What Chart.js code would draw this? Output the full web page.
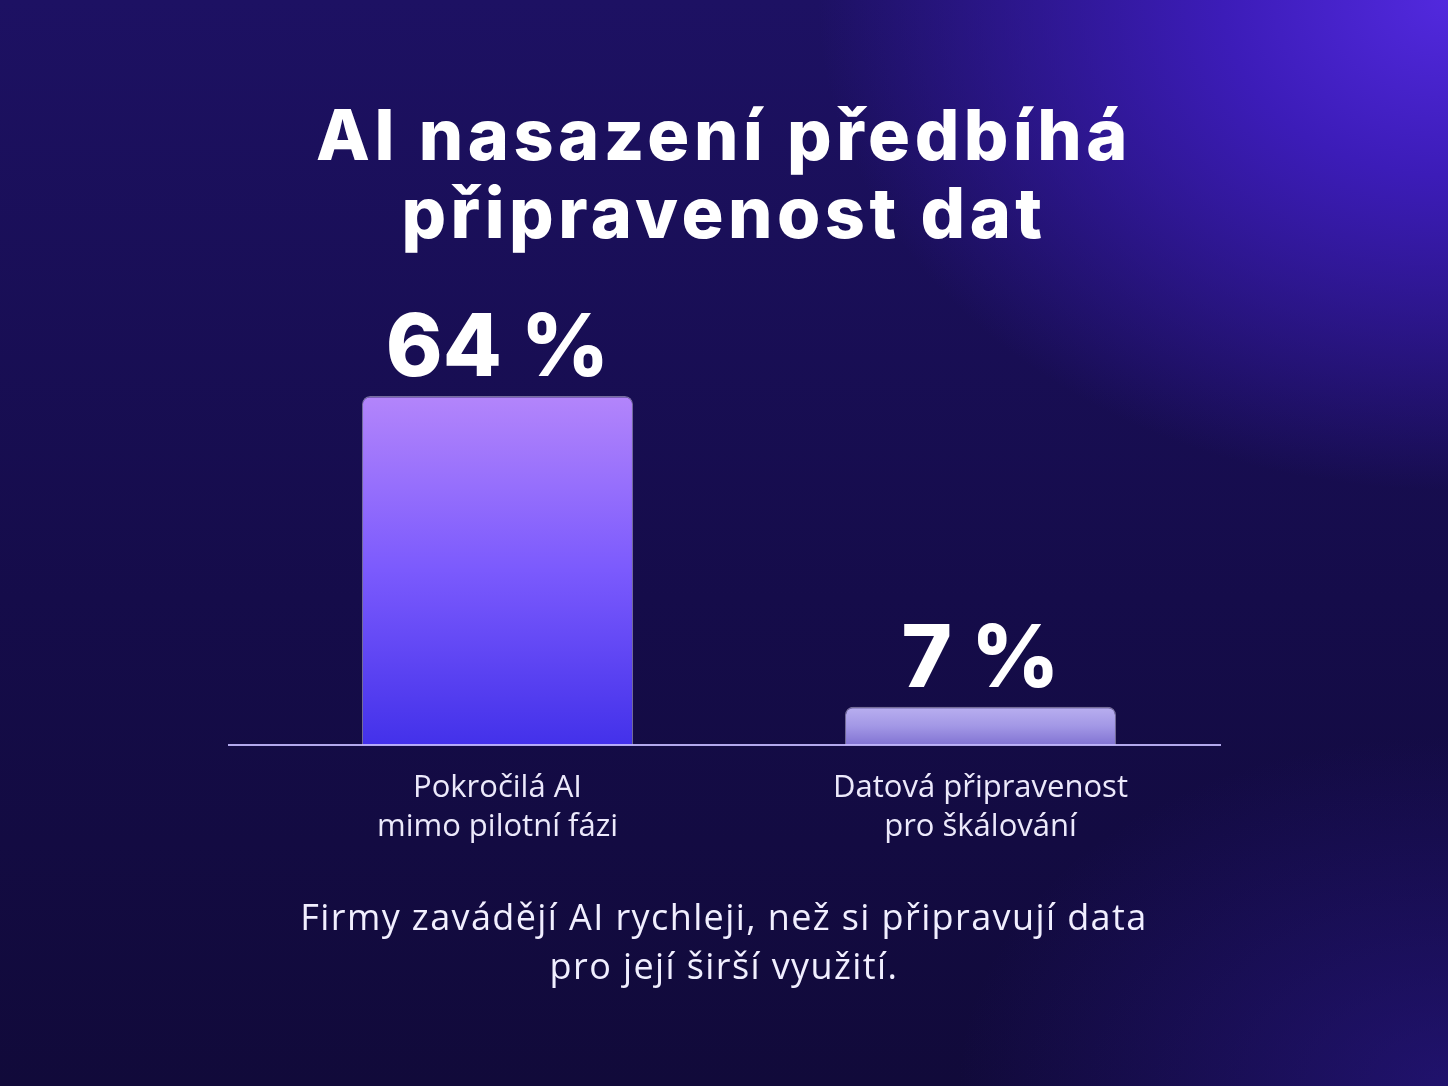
<!DOCTYPE html>
<html lang="cs">
<head>
<meta charset="utf-8">
<title>AI nasazení předbíhá připravenost dat</title>
<script src="https://cdn.jsdelivr.net/npm/chart.js@4.4.1/dist/chart.umd.min.js"></script>
<style>
  html, body { margin: 0; padding: 0; }
  body {
    width: 1448px; height: 1086px; overflow: hidden; position: relative;
    background:
      radial-gradient(ellipse 900px 700px at 100% 0%, #5229de 0%, #3c1cb8 25%, rgba(40,20,140,0) 70%),
      radial-gradient(ellipse 700px 500px at 100% 100%, rgba(45,25,150,0.55) 0%, rgba(45,25,150,0) 70%),
      linear-gradient(to bottom, #1d1163 0%, #150c4a 55%, #110a3a 100%);
    font-family: "Open Sans", "Noto Sans", sans-serif;
  }
  #title {
    position: absolute; left: 0; width: 1448px; top: 96px;
    text-align: center; color: #fff;
    font-family: Inter, "Noto Sans", sans-serif; font-weight: 800;
    font-size: 70px; line-height: 78px; letter-spacing: 4.5px;
  }
  #note {
    position: absolute; left: 0; width: 1448px; top: 892px;
    text-align: center; color: #f1efff;
    font-size: 36px; line-height: 49px; letter-spacing: 1.4px;
  }
  canvas { position: absolute; left: 0; top: 0; }
</style>
</head>
<body>
<div id="title">AI nasazení předbíhá<br>připravenost dat</div>
<canvas id="chart" width="1448" height="1086"></canvas>
<div id="note">Firmy zavádějí AI rychleji, než si připravují data<br>pro její širší využití.</div>
<script>
// data
var categories = [["Pokročilá AI", "mimo pilotní fázi"], ["Datová připravenost", "pro škálování"]];
var values = [64, 7];
var valueLabels = ["64 %", "7 %"];

var barTop = ["#b385fb", "#b9aff0"];
var barMid = ["#7b5afd", "#a398e6"];
var barBottom = ["#4331ea", "#8274d3"];

function barFill(ctx) {
  var chart = ctx.chart;
  if (!chart.chartArea) return barMid[ctx.dataIndex];
  var y = chart.scales.y;
  var top = y.getPixelForValue(ctx.raw);
  var bottom = y.getPixelForValue(0);
  var g = chart.ctx.createLinearGradient(0, top, 0, bottom);
  g.addColorStop(0, barTop[ctx.dataIndex]);
  g.addColorStop(0.5, barMid[ctx.dataIndex]);
  g.addColorStop(1, barBottom[ctx.dataIndex]);
  return g;
}

var baseline = {
  id: "baseline",
  afterDatasetsDraw: function(chart) {
    var c = chart.ctx;
    var y0 = chart.scales.y.getPixelForValue(0);
    c.save();
    c.strokeStyle = "rgba(196,186,255,0.9)";
    c.lineWidth = 2;
    c.beginPath();
    c.moveTo(228, y0);
    c.lineTo(1221, y0);
    c.stroke();
    c.restore();
  }
};

var valueText = {
  id: "valueText",
  afterDatasetsDraw: function(chart) {
    var c = chart.ctx;
    var meta = chart.getDatasetMeta(0);
    c.save();
    c.fillStyle = "#ffffff";
    c.font = "800 86px Inter, 'Noto Sans', sans-serif";
    c.textAlign = "center";
    c.textBaseline = "alphabetic";
    meta.data.forEach(function(bar, i) {
      c.fillText(valueLabels[i], bar.x, bar.y - 20);
    });
    c.restore();
  }
};

new Chart(document.getElementById("chart"), {
  type: "bar",
  data: {
    labels: categories,
    datasets: [{
      data: values,
      backgroundColor: barFill,
      borderColor: "rgba(235,228,255,0.45)",
      borderWidth: { top: 1.5, left: 1, right: 1, bottom: 0 },
      borderRadius: { topLeft: 8, topRight: 8 },
      borderSkipped: "bottom",
      categoryPercentage: 1,
      barPercentage: 0.561
    }]
  },
  options: {
    responsive: false,
    animation: false,
    devicePixelRatio: 1,
    layout: { padding: { left: 256, right: 226, top: 396, bottom: 215 } },
    plugins: { legend: { display: false }, tooltip: { enabled: false } },
    scales: {
      y: { display: false, min: 0, max: 64 },
      x: {
        grid: { display: false, drawTicks: false },
        border: { display: false },
        ticks: {
          color: "#ece9fb",
          padding: 24,
          font: { family: "'Open Sans', 'Noto Sans', sans-serif", size: 31, lineHeight: 1.26 }
        }
      }
    }
  },
  plugins: [baseline, valueText]
});
</script>
</body>
</html>
